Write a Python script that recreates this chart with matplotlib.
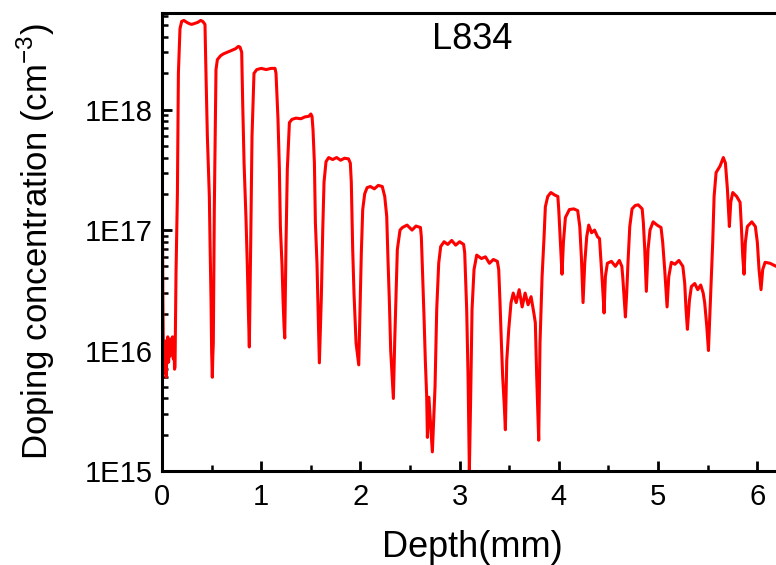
import math
import matplotlib
matplotlib.use("Agg")
import matplotlib.pyplot as plt
from matplotlib.ticker import FixedLocator, FuncFormatter, LogLocator, MultipleLocator

plt.rcParams['font.family'] = ['Liberation Sans', 'DejaVu Sans']
plt.rcParams['mathtext.fontset'] = 'custom'
plt.rcParams['mathtext.rm'] = 'Liberation Sans'

# depth (mm) and doping concentration (cm^-3)
depth = [0.000, 0.004, 0.008, 0.012, 0.018, 0.024, 0.030, 0.036, 0.042, 0.050,
         0.058, 0.066, 0.074, 0.082, 0.090, 0.098, 0.106, 0.114, 0.120, 0.126,
         0.131, 0.141, 0.155, 0.165, 0.181, 0.198, 0.22, 0.25, 0.28, 0.30,
         0.33, 0.36, 0.39, 0.41, 0.433, 0.443, 0.457, 0.477, 0.484, 0.494,
         0.500, 0.507, 0.512, 0.517, 0.527, 0.544, 0.558, 0.59, 0.618, 0.66,
         0.702, 0.74, 0.77, 0.786, 0.803, 0.813, 0.827, 0.847, 0.860, 0.870,
         0.880, 0.894, 0.907, 0.927, 0.955, 1.00, 1.05, 1.10, 1.139, 1.149,
         1.169, 1.183, 1.193, 1.210, 1.220, 1.230, 1.237, 1.250, 1.263, 1.284,
         1.310, 1.35, 1.40, 1.44, 1.48, 1.50, 1.512, 1.522, 1.536, 1.546,
         1.562, 1.573, 1.586, 1.606, 1.620, 1.633, 1.653, 1.680, 1.72, 1.76,
         1.80, 1.84, 1.88, 1.898, 1.908, 1.922, 1.935, 1.956, 1.983, 1.996,
         2.009, 2.023, 2.043, 2.067, 2.10, 2.14, 2.18, 2.22, 2.245, 2.265,
         2.278, 2.292, 2.305, 2.332, 2.345, 2.359, 2.372, 2.399, 2.423, 2.47,
         2.52, 2.56, 2.605, 2.614, 2.628, 2.641, 2.654, 2.668, 2.675, 2.690,
         2.709, 2.725, 2.742, 2.752, 2.769, 2.789, 2.809, 2.843, 2.88, 2.92,
         2.96, 3.00, 3.04, 3.051, 3.071, 3.085, 3.098, 3.112, 3.125, 3.145,
         3.172, 3.22, 3.26, 3.30, 3.34, 3.38, 3.394, 3.407, 3.421, 3.434,
         3.450, 3.461, 3.475, 3.495, 3.518, 3.54, 3.57, 3.60, 3.63, 3.66,
         3.69, 3.72, 3.75, 3.763, 3.777, 3.797, 3.810, 3.831, 3.851, 3.864,
         3.888, 3.92, 3.96, 3.99, 3.999, 4.016, 4.032, 4.046, 4.066, 4.106,
         4.15, 4.19, 4.211, 4.227, 4.244, 4.261, 4.281, 4.301, 4.33, 4.36,
         4.39, 4.41, 4.422, 4.439, 4.456, 4.469, 4.489, 4.53, 4.57, 4.61,
         4.635, 4.644, 4.657, 4.671, 4.684, 4.698, 4.715, 4.738, 4.77, 4.80,
         4.84, 4.852, 4.866, 4.882, 4.899, 4.919, 4.950, 4.99, 5.03, 5.047,
         5.067, 5.091, 5.108, 5.134, 5.17, 5.21, 5.25, 5.269, 5.282, 5.296,
         5.316, 5.336, 5.37, 5.40, 5.43, 5.455, 5.470, 5.491, 5.508, 5.524,
         5.537, 5.551, 5.565, 5.585, 5.625, 5.658, 5.679, 5.699, 5.719, 5.733,
         5.753, 5.793, 5.827, 5.840, 5.854, 5.867, 5.880, 5.900, 5.945, 5.981,
         6.001, 6.018, 6.038, 6.055, 6.079, 6.129, 6.19, 6.25]

conc = [4.7e17, 1.6e17, 3.0e16, 1.3e16, 6.5e15, 1.1e16, 7.5e15, 1.2e16, 6.0e15, 1.0e16,
        1.3e16, 8.0e15, 1.2e16, 9.0e15, 1.25e16, 1.0e16, 1.3e16, 8.5e15, 1.15e16, 7.0e15,
        7.3e15, 4.4e16, 2.0e17, 2.0e18, 4.7e18, 5.4e18, 5.5e18, 5.3e18, 5.15e18, 5.1e18,
        5.2e18, 5.3e18, 5.5e18, 5.4e18, 5.1e18, 2.0e18, 6.0e17, 1.9e17, 7.9e16, 2.6e16,
        1.0e16, 6.0e15, 9.0e15, 1.15e16, 1.5e17, 2.15e18, 2.6e18, 2.8e18, 2.9e18, 3.0e18,
        3.1e18, 3.2e18, 3.35e18, 3.3e18, 3.0e18, 1.15e18, 3.6e17, 1.2e17, 5.0e16, 2.2e16,
        1.07e16, 7.9e16, 6.0e17, 2.0e18, 2.15e18, 2.2e18, 2.15e18, 2.2e18, 2.2e18, 2.0e18,
        8.3e17, 3.2e17, 1.07e17, 5.0e16, 2.6e16, 1.6e16, 1.27e16, 7.9e16, 3.2e17, 7.8e17,
        8.3e17, 8.5e17, 8.4e17, 8.7e17, 8.8e17, 9.2e17, 8.8e17, 6.8e17, 3.6e17, 1.15e17,
        5.3e16, 2.2e16, 7.9e15, 2.8e16, 1.0e17, 2.5e17, 3.7e17, 4.0e17, 3.85e17, 4.0e17,
        3.8e17, 3.95e17, 3.9e17, 3.6e17, 2.5e17, 6.9e16, 3.0e16, 1.15e16, 7.6e15, 2.2e16,
        6.5e16, 1.48e17, 2.0e17, 2.25e17, 2.3e17, 2.2e17, 2.35e17, 2.3e17, 1.9e17, 1.3e17,
        5.6e16, 2.5e16, 1.0e16, 4.0e15, 1.15e16, 3.0e16, 6.9e16, 1.0e17, 1.05e17, 1.1e17,
        1.0e17, 1.08e17, 1.05e17, 8.8e16, 4.1e16, 1.9e16, 8.3e15, 4.1e15, 1.9e15, 4.1e15,
        2.3e15, 1.44e15, 3.1e15, 5.0e15, 2.2e16, 5.3e16, 7.3e16, 8.0e16, 7.6e16, 8.2e16,
        7.5e16, 8.0e16, 7.6e16, 6.5e16, 2.2e16, 6.0e15, 1.0e15, 4.5e15, 2.2e16, 4.7e16,
        6.2e16, 5.8e16, 6.0e16, 5.3e16, 5.7e16, 5.5e16, 4.7e16, 2.5e16, 1.15e16, 6.0e15,
        3.5e15, 2.2e15, 8.3e15, 1.5e16, 2.5e16, 3.0e16, 2.5e16, 3.2e16, 2.3e16, 3.0e16,
        2.4e16, 2.8e16, 2.0e16, 1.7e16, 6.0e15, 1.8e15, 1.15e16, 4.1e16, 8.8e16, 1.56e17,
        1.9e17, 2.05e17, 1.95e17, 1.9e17, 1.48e17, 7.9e16, 4.3e16, 7.9e16, 1.27e17, 1.48e17,
        1.5e17, 1.45e17, 1.07e17, 6.0e16, 2.5e16, 5.3e16, 8.8e16, 1.1e17, 9.5e16, 1.0e17,
        8.8e16, 8.5e16, 6.0e16, 3.6e16, 2.05e16, 4.1e16, 5.3e16, 5.5e16, 5.0e16, 5.6e16,
        5.0e16, 4.1e16, 2.8e16, 1.9e16, 3.0e16, 5.6e16, 1.07e17, 1.5e17, 1.6e17, 1.62e17,
        1.5e17, 1.15e17, 6.9e16, 3.1e16, 6.9e16, 1.0e17, 1.17e17, 1.1e17, 1.05e17, 7.9e16,
        4.7e16, 2.3e16, 4.1e16, 5.4e16, 5.2e16, 5.6e16, 5.0e16, 3.6e16, 2.2e16, 1.5e16,
        2.6e16, 3.4e16, 3.6e16, 3.2e16, 3.5e16, 3.0e16, 2.5e16, 1.6e16, 1.0e16, 2.2e16,
        4.1e16, 7.9e16, 1.9e17, 3.0e17, 3.4e17, 4.0e17, 3.6e17, 2.2e17, 1.07e17, 1.7e17,
        2.05e17, 1.9e17, 1.7e17, 1.07e17, 6.0e16, 4.3e16, 7.9e16, 1.07e17, 1.17e17, 1.07e17,
        7.9e16, 4.7e16, 3.2e16, 4.7e16, 5.4e16, 5.3e16, 5.0e16, 5.2e16]

y_ticks = [1e15, 1e16, 1e17, 1e18]
sample = "L834"

fig = plt.figure(figsize=(7.76, 5.65), dpi=100)
# axes runs a little past the right edge of the picture, as in the original crop
ax = fig.add_axes([0.2088, 0.1664, 0.799, 0.81])

ax.plot(depth, conc, color='#ff0000', lw=2.2)

ax.set_yscale('log')
ax.set_xlim(0, 6.25)
ax.set_ylim(1e15, 6.3e18)

ax.yaxis.set_major_locator(FixedLocator(y_ticks))
ax.yaxis.set_minor_locator(LogLocator(base=10, subs=range(2, 10)))
ax.yaxis.set_major_formatter(FuncFormatter(lambda v, p: "1E%d" % round(math.log10(v))))
ax.xaxis.set_major_locator(MultipleLocator(1))
ax.xaxis.set_minor_locator(MultipleLocator(0.5))

for s in ax.spines.values():
    s.set_linewidth(2.2)

ax.tick_params(which='major', direction='in', length=7, width=2, labelsize=21, pad=7)
ax.tick_params(which='minor', direction='in', length=4, width=1.8)
ax.tick_params(axis='x', which='major', pad=9)

ax.set_xlabel("Depth(mm)", fontsize=26, labelpad=13)
ax.set_ylabel("Doping concentration (cm$^{\\mathrm{-3}}$)", fontsize=25, labelpad=20)

ax.text(0.5, 0.942, sample, transform=ax.transAxes, fontsize=26,
        ha='center', va='center')

fig.savefig("out.png", dpi=100)
